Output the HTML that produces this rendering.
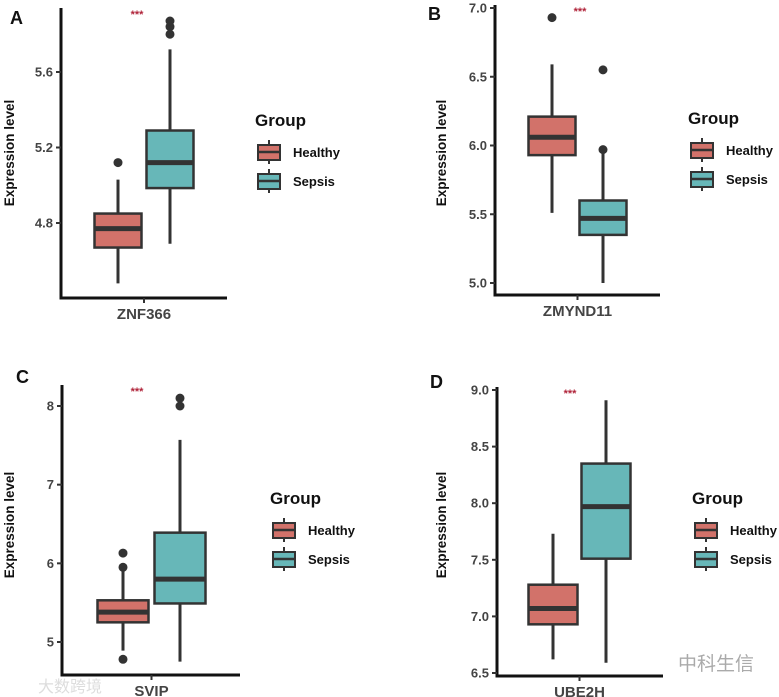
<!DOCTYPE html>
<html><head><meta charset="utf-8"><style>
html,body{margin:0;padding:0;background:#fff;}
svg{display:block;font-family:"Liberation Sans","Noto Sans CJK SC",sans-serif;}
</style></head><body>
<svg id="fig" width="779" height="697" viewBox="0 0 779 697"></svg>
<script>
// Panel data
const panelLetters = ["A","B","C","D"];
const genes = ["ZNF366","ZMYND11","SVIP","UBE2H"];
const groups = ["Healthy","Sepsis"];
// [whiskerLow, Q1, median, Q3, whiskerHigh]
const healthyStats = [
  [4.48,4.67,4.77,4.85,5.03],
  [5.51,5.93,6.06,6.21,6.59],
  [4.89,5.25,5.38,5.53,5.90],
  [6.62,6.93,7.07,7.28,7.73]
];
const sepsisStats = [
  [4.69,4.985,5.12,5.29,5.72],
  [5.00,5.35,5.47,5.60,5.95],
  [4.75,5.49,5.80,6.39,7.57],
  [6.59,7.51,7.97,8.35,8.91]
];
const healthyOutliers = [[5.12],[6.93],[4.78,5.95,6.13],[]];
const sepsisOutliers = [[5.80,5.84,5.87],[5.97,6.55],[8.0,8.1],[]];
const yTicks = [[4.8,5.2,5.6],[5.0,5.5,6.0,6.5,7.0],[5,6,7,8],[6.5,7.0,7.5,8.0,8.5,9.0]];
const yTickLabels = [["4.8","5.2","5.6"],["5.0","5.5","6.0","6.5","7.0"],["5","6","7","8"],["6.5","7.0","7.5","8.0","8.5","9.0"]];

// layout (pixels) — not data
const layout = [
  {ax:61, top:8, bottom:298, right:227, v0:4.8, p0:223, v1:5.6, p1:72, hx:118, sx:170, bw:47, lx:255, ly:120, lab:[10,24], ylx:14, yly:153, star:137},
  {ax:495, top:5, bottom:295, right:660, v0:5.0, p0:283, v1:7.0, p1:8, hx:552, sx:603, bw:47, lx:688, ly:118, lab:[428,20], ylx:446, yly:153, star:580},
  {ax:62, top:385, bottom:675, right:240, v0:5, p0:642, v1:8, p1:406, hx:123, sx:180, bw:51, lx:270, ly:498, lab:[16,383], ylx:14, yly:525, star:137},
  {ax:497, top:387, bottom:676, right:663, v0:6.5, p0:673, v1:9.0, p1:390, hx:553, sx:606, bw:49, lx:692, ly:498, lab:[430,388], ylx:446, yly:525, star:570}
];
const colors = {Healthy:"#d2726a", Sepsis:"#67b7b8"};
const NS="http://www.w3.org/2000/svg";
const svg=document.getElementById('fig');
function mk(tag, attrs, parent, text){
  const e=document.createElementNS(NS,tag);
  for(const k in attrs) e.setAttribute(k,attrs[k]);
  if(text!==undefined) e.textContent=text;
  (parent||svg).appendChild(e);
  return e;
}
function drawBox(g, cx, bw, st, outs, fill, scale, name){
  const grp=mk('g',{},g);
  
  
  const l=mk('line',{x1:cx,x2:cx,y1:scale(st[0]),y2:scale(st[4]),stroke:"#333",'stroke-width':3},grp);
  
  
  const r=mk('rect',{x:cx-bw/2,y:scale(st[3]),width:bw,height:scale(st[1])-scale(st[3]),fill:fill,stroke:"#333",'stroke-width':2.5},grp);
  
  
  const m=mk('line',{x1:cx-bw/2,x2:cx+bw/2,y1:scale(st[2]),y2:scale(st[2]),stroke:"#333",'stroke-width':5},grp);
  
  
  outs.forEach(v=>{
    const c=mk('circle',{cx:cx,cy:scale(v),r:4.5,fill:"#333"},grp);
    
    
  });
}
for(let i=0;i<4;i++){
  const L=layout[i];
  const scale=v=>L.p0+(v-L.v0)*(L.p1-L.p0)/(L.v1-L.v0);
  const g=mk('g',{});
  
  
  const pl=mk('text',{x:L.lab[0],y:L.lab[1],'font-size':18,'font-weight':'bold',fill:'#111'},g,panelLetters[i]);
  
  
  const yl=mk('text',{x:L.ylx,y:L.yly,'font-size':13.5,'font-weight':'bold',fill:'#111','text-anchor':'middle',transform:`rotate(-90 ${L.ylx} ${L.yly})`},g,'Expression level');
  
  
  const ya=mk('line',{x1:L.ax,x2:L.ax,y1:L.top,y2:L.bottom,stroke:'#111','stroke-width':3},g);
  
  
  const xa=mk('line',{x1:L.ax-1.5,x2:L.right,y1:L.bottom,y2:L.bottom,stroke:'#111','stroke-width':3},g);
  
  
  yTicks[i].forEach((v,j)=>{
    const y=scale(v);
    mk('line',{x1:L.ax-5,x2:L.ax,y1:y,y2:y,stroke:'#333','stroke-width':2},g);
    const t=mk('text',{x:L.ax-8,y:y+4.5,'font-size':13,'font-weight':'bold',fill:'#444','text-anchor':'end'},g,yTickLabels[i][j]);
    
    
  });
  const xc=(L.hx+L.sx)/2;
  mk('line',{x1:xc,x2:xc,y1:L.bottom,y2:L.bottom+5,stroke:'#333','stroke-width':2},g);
  const xt=mk('text',{x:xc,y:L.bottom+21,'font-size':15,'font-weight':'bold',fill:'#444','text-anchor':'middle'},g,genes[i]);
  
  
  const st=mk('text',{x:L.star,y:L.top+10,'font-size':11,'font-weight':'bold',fill:'#b0243a','text-anchor':'middle'},g,'***');
  
  
  drawBox(g,L.hx,L.bw,healthyStats[i],healthyOutliers[i],colors.Healthy,scale,'healthy');
  drawBox(g,L.sx,L.bw,sepsisStats[i],sepsisOutliers[i],colors.Sepsis,scale,'sepsis');
  const lg=mk('g',{},g);
  
  
  const lt=mk('text',{x:L.lx,y:L.ly+6,'font-size':17,'font-weight':'bold',fill:'#111'},lg,'Group');
  
  
  groups.forEach((gr,k)=>{
    const ky=L.ly+32+k*29;
    const e=mk('g',{},lg);
    
    
    mk('line',{x1:L.lx+14,x2:L.lx+14,y1:ky-12,y2:ky+12,stroke:'#333','stroke-width':2},e);
    mk('rect',{x:L.lx+3,y:ky-7,width:22,height:15,fill:colors[gr],stroke:'#333','stroke-width':2},e);
    mk('line',{x1:L.lx+3,x2:L.lx+25,y1:ky,y2:ky,stroke:'#333','stroke-width':2.5},e);
    mk('text',{x:L.lx+38,y:ky+5,'font-size':13,'font-weight':'bold',fill:'#111'},e,gr);
  });
}
const w1=mk('text',{x:678,y:670,'font-size':19,fill:'#aaa'},svg,'中科生信');


const w2=mk('text',{x:38,y:692,'font-size':16,fill:'#ddd'},svg,'大数跨境');


</script>
</body></html>
